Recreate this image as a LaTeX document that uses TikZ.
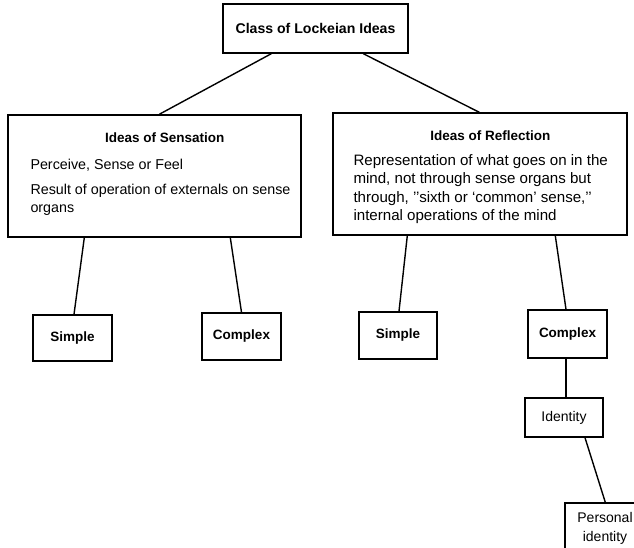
\documentclass[tikz,border=0pt]{standalone}
\usepackage{fontspec}
\setmainfont{Liberation Sans}
\begin{document}
\begin{tikzpicture}[x=1pt,y=-1pt,
    box/.style={draw,line width=1.4pt,inner sep=0pt},
    head/.style={font=\fontsize{13.5}{16}\selectfont\bfseries},
    body/.style={align=left,inner sep=0pt},
    link/.style={line width=1.4pt}]
    \useasboundingbox (0,0) rectangle (634,548);
    \clip (0,0) rectangle (634,548);
    %% top
    \node[box,font=\fontsize{14.1}{16}\selectfont\bfseries,minimum width=185pt,minimum height=49pt] (class) at (315.5,28.5) {Class of Lockeian Ideas};
    %% sensation
    \node[box,minimum width=293pt,minimum height=122pt] (sens) at (154.5,176) {};
    \node[head,anchor=base] (senshead) at ([xshift=157.5pt,yshift=-28pt]sens.north west) {Ideas of Sensation};
    \node[body,font=\fontsize{14.3}{18}\selectfont,anchor=north west] (senstext) at ([xshift=23pt,yshift=-45pt]sens.north west)
        {Perceive, Sense or Feel\\[7pt]Result of operation of externals on sense\\organs};
    %% reflection
    \node[box,minimum width=294pt,minimum height=122pt] (refl) at (480,174) {};
    \node[head,anchor=base] (reflhead) at ([xshift=158pt,yshift=-28pt]refl.north west) {Ideas of Reflection};
    \node[body,font=\fontsize{15.1}{18.5}\selectfont,anchor=north west] (refltext) at ([xshift=21pt,yshift=-42pt]refl.north west)
        {Representation of what goes on in the\\mind, not through sense organs but\\through, ’’sixth or ‘common’ sense,’’\\internal operations of the mind};
    %% simple and complex
    \node[box,head,minimum width=79pt,minimum height=46pt] (simpleA) at (72.5,338) {Simple};
    \node[box,head,minimum width=79pt,minimum height=47pt] (complexA) at (241.5,336.5) {Complex};
    \node[box,head,minimum width=78pt,minimum height=47pt] (simpleB) at (398,335.5) {Simple};
    \node[box,head,minimum width=79pt,minimum height=48pt] (complexB) at (567.5,334) {Complex};
    %% identity
    \node[box,font=\fontsize{14}{18}\selectfont,minimum width=78pt,minimum height=39pt] (ident) at (564,417.5) {Identity};
    \node[box,font=\fontsize{14}{18.5}\selectfont,align=center,minimum width=80pt,minimum height=51pt] (person) at (605,528.5) {Personal\\identity};
    %% connections
    \draw[link] ([xshift=49pt]class.south west) -- ([xshift=152pt]sens.north west);
    \draw[link] ([xshift=141pt]class.south west) -- ([xshift=147pt]refl.north west);
    \draw[link] ([xshift=77pt]sens.south west) -- ([xshift=1.5pt]simpleA.north);
    \draw[link] ([xshift=223pt]sens.south west) -- (complexA.north);
    \draw[link] ([xshift=75pt]refl.south west) -- ([xshift=1pt]simpleB.north);
    \draw[link] ([xshift=223pt]refl.south west) -- ([xshift=-1.5pt]complexB.north);
    \draw[link] ([xshift=-1.5pt]complexB.south) -- ([xshift=2pt]ident.north);
    \draw[link] ([xshift=21pt]ident.south) -- ([xshift=41pt]person.north west);
\end{tikzpicture}
\end{document}
